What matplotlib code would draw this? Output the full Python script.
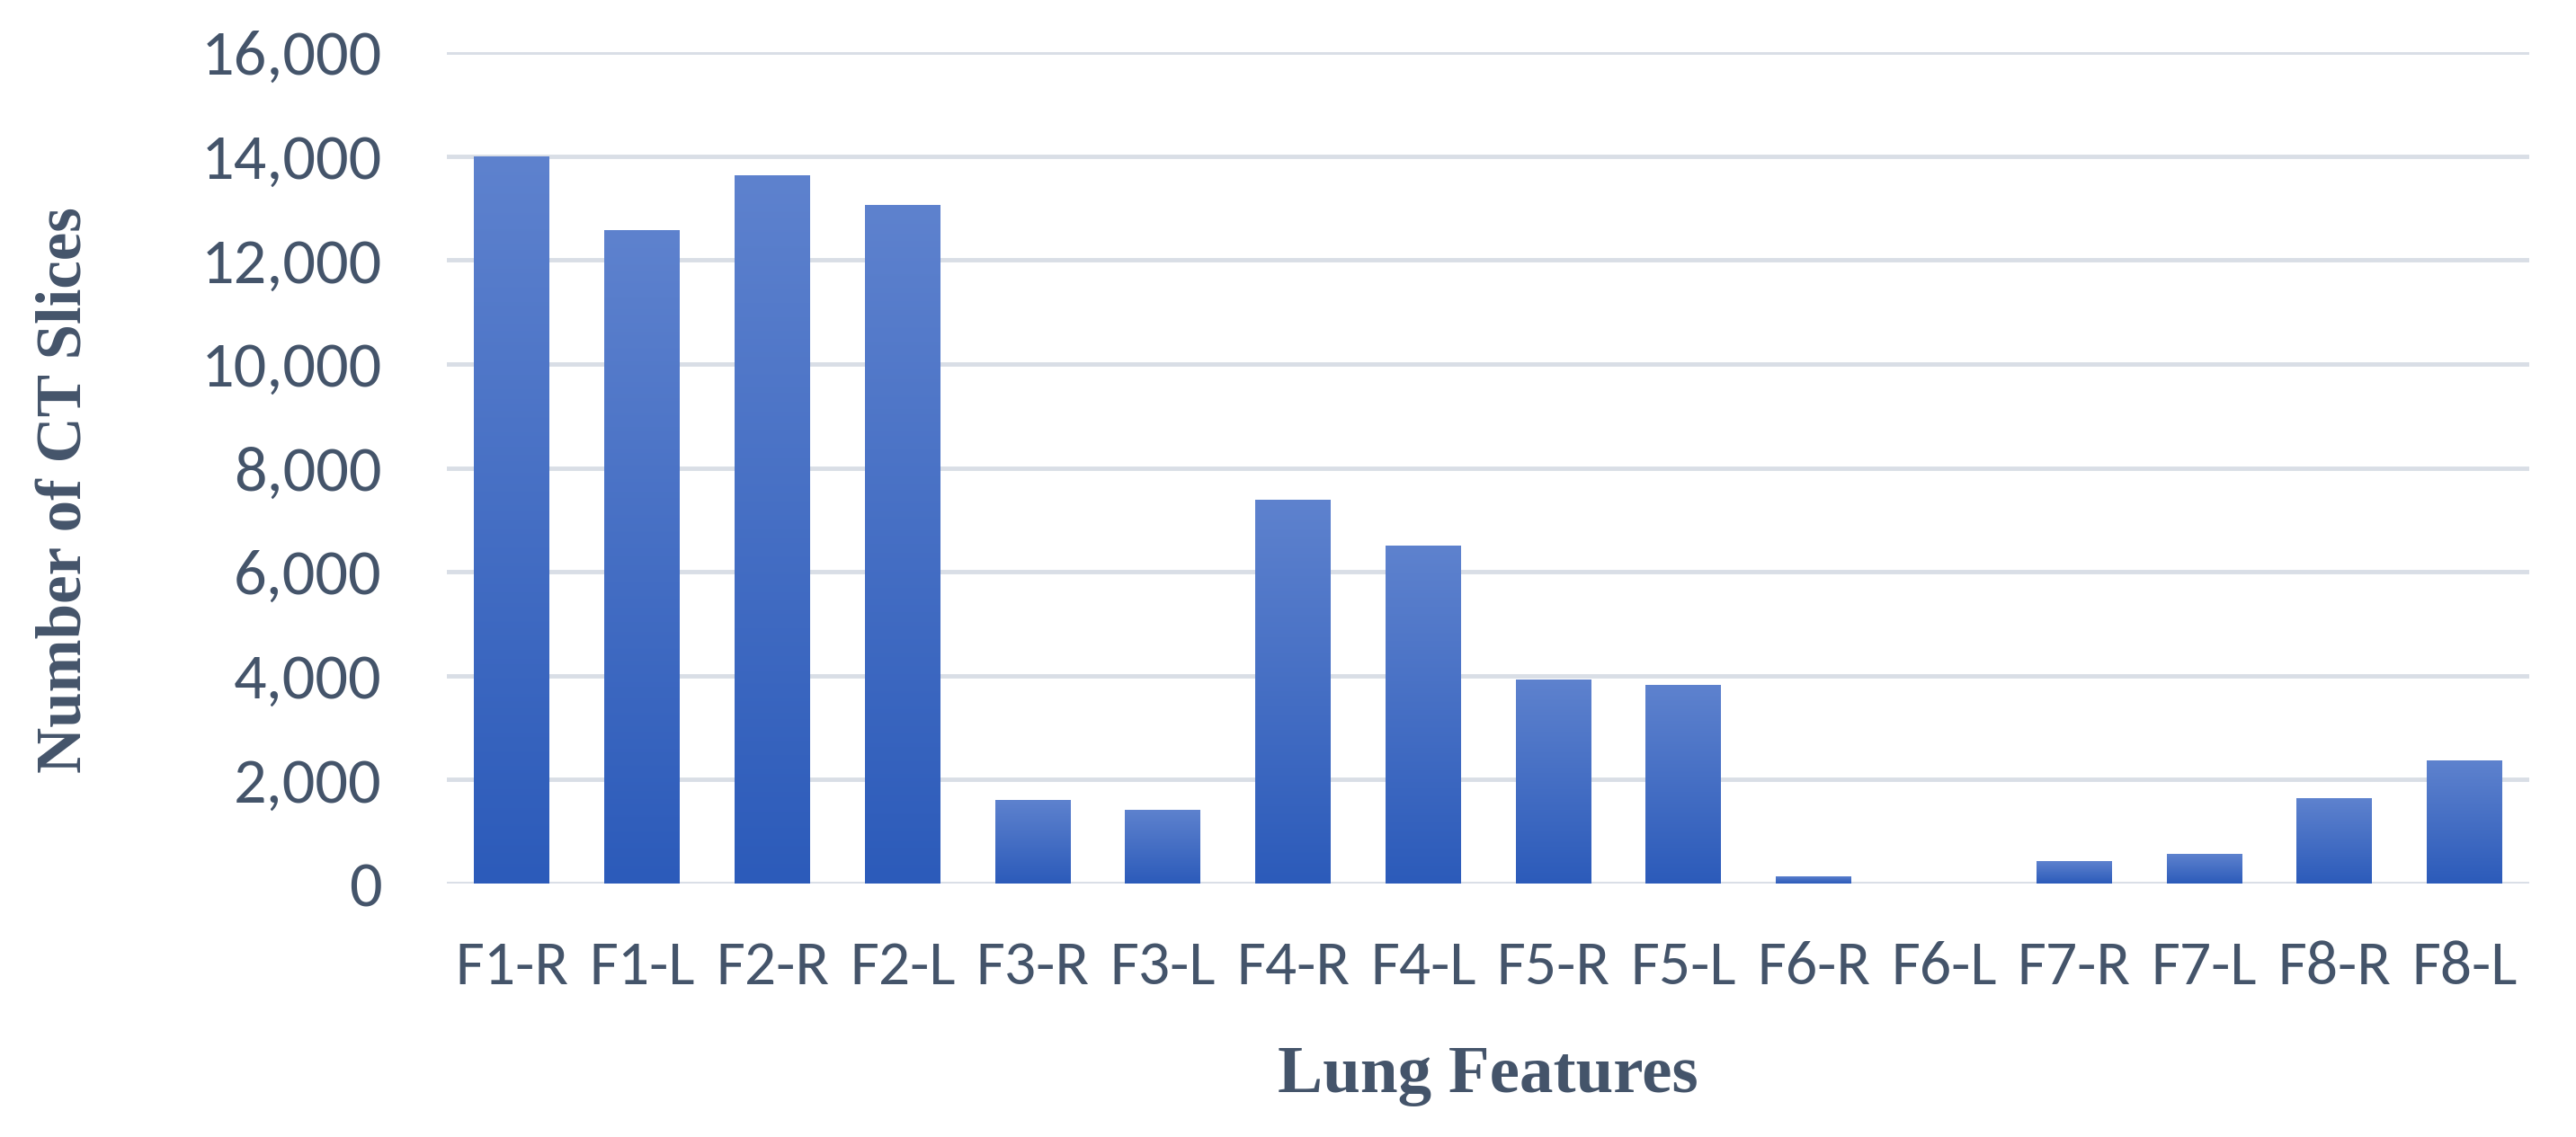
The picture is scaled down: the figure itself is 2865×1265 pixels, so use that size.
import numpy as np
import matplotlib
matplotlib.use("Agg")
import matplotlib.pyplot as plt
from matplotlib.ticker import FuncFormatter
from matplotlib import font_manager

categories = ["F1-R", "F1-L", "F2-R", "F2-L", "F3-R", "F3-L", "F4-R", "F4-L",
              "F5-R", "F5-L", "F6-R", "F6-L", "F7-R", "F7-L", "F8-R", "F8-L"]
slices = [14000, 12570, 13640, 13060, 1610, 1420, 7390, 6500,
          3930, 3820, 140, 0, 430, 570, 1640, 2370]
y_ticks = [0, 2000, 4000, 6000, 8000, 10000, 12000, 14000, 16000]

names = {f.name for f in font_manager.fontManager.ttflist}
if "Carlito" in names:
    tfont, ysize, xsize = "Carlito", 52, 50
elif "Lato" in names:
    tfont, ysize, xsize = "Lato", 47, 45
else:
    tfont, ysize, xsize = "DejaVu Sans", 41, 38

text_col = "#44546A"
fig = plt.figure(figsize=(28.65, 12.65), dpi=100)
ax = fig.add_axes([0.1735, 0.2229, 0.8085, 0.7311])

x = np.arange(len(categories))
bars = ax.bar(x, slices, width=0.58, color="none", edgecolor="none", zorder=3)

top = np.array([0x5E, 0x82, 0xCE]) / 255
bot = np.array([0x2C, 0x5B, 0xBA]) / 255
t = np.linspace(0, 1, 256)[:, None]
grad = (top[None, :] * (1 - t) + bot[None, :] * t)[:, None, :]
for b in bars:
    h = b.get_height()
    if h <= 0:
        continue
    im = ax.imshow(grad, extent=[b.get_x(), b.get_x() + b.get_width(), 0, h],
                   aspect="auto", zorder=3, interpolation="bilinear")
    im.set_clip_path(b)

ax.set_xlim(-0.5, len(categories) - 0.5)
ax.set_ylim(0, 16000)
ax.set_yticks(y_ticks)
ax.yaxis.set_major_formatter(FuncFormatter(lambda v, p: f"{int(v):,}"))
ax.grid(axis="y", color="#D9DEE6", linewidth=3.5, zorder=0)
ax.set_axisbelow(True)
for s in ax.spines.values():
    s.set_visible(False)
ax.tick_params(axis="both", length=0)
ax.tick_params(axis="y", pad=52)
for lab in ax.get_yticklabels():
    lab.set_fontfamily(tfont)
    lab.set_fontsize(ysize)
    lab.set_color(text_col)
ax.set_xticks(x)
ax.set_xticklabels(categories, color=text_col, family=tfont, fontsize=xsize)
ax.tick_params(axis="x", pad=46)

fig.text(1655 / 2865, 1 - 1197 / 1265, "Lung Features", ha="center", va="center",
         fontsize=54, fontweight="bold", family="Liberation Serif", color=text_col)
fig.text(73 / 2865, 1 - 545 / 1265, "Number of CT Slices", ha="center", va="center",
         rotation=90, fontsize=51, fontweight="bold", family="Liberation Serif", color=text_col)

fig.savefig("out.png", dpi=100, facecolor="white")
